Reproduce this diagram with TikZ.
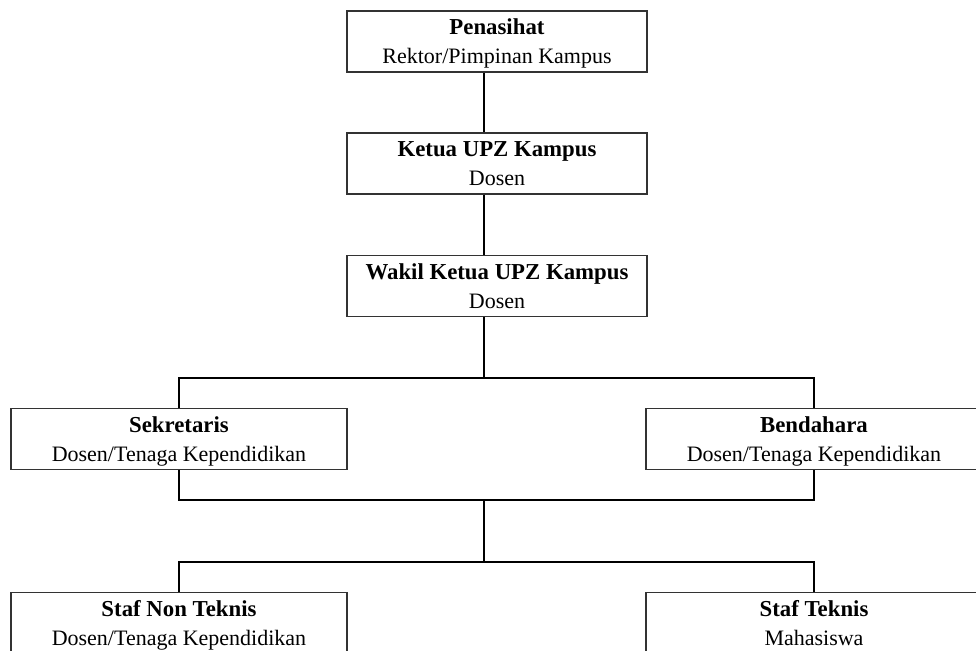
\documentclass[tikz,border=0pt]{standalone}
\usepackage{fontspec}
\setmainfont{Liberation Serif}

\newcommand{\jab}[2]{\rule{0pt}{11pt}{\fontsize{11.4}{14.5}\selectfont\textbf{#1}}\\#2\rule[-3pt]{0pt}{3pt}}

\begin{document}
\begin{tikzpicture}[x=0.5pt,y=-0.5pt,
    jabatan/.style={draw=black!80,line width=0.7pt,fill=white,inner sep=0pt,
      minimum width=150pt,minimum height=30.5pt,align=center,
      font=\fontsize{11}{14.5}\selectfont},
    lebar/.style={jabatan,minimum width=168pt},
    garis/.style={line width=0.7pt}]
  \useasboundingbox (0,0) rectangle (976,651);
  \node[jabatan] (pen) at (497,41.5) {\jab{Penasihat}{Rektor/Pimpinan Kampus}};
  \node[jabatan] (ketua) at (497,163.5) {\jab{Ketua UPZ Kampus}{Dosen}};
  \node[jabatan] (wakil) at (497,286) {\jab{Wakil Ketua UPZ Kampus}{Dosen}};
  \node[lebar] (sek) at (179,439) {\jab{Sekretaris}{Dosen/Tenaga Kependidikan}};
  \node[lebar] (ben) at (814,439) {\jab{Bendahara}{Dosen/Tenaga Kependidikan}};
  \node[lebar] (snt) at (179,623) {\jab{Staf Non Teknis}{Dosen/Tenaga Kependidikan}};
  \node[lebar] (st) at (814,623) {\jab{Staf Teknis}{Mahasiswa}};
  \coordinate (atas) at (484,378);
  \coordinate (tengah) at (484,500);
  \coordinate (bawah) at (484,562);
  \draw[garis] (pen.south -| atas) -- (ketua.north -| atas);
  \draw[garis] (ketua.south -| atas) -- (wakil.north -| atas);
  \draw[garis] (wakil.south -| atas) -- (atas);
  \draw[garis] (sek.north) |- (atas) -| (ben.north);
  \draw[garis] (sek.south) |- (tengah) -| (ben.south);
  \draw[garis] (tengah) -- (bawah);
  \draw[garis] (snt.north) |- (bawah) -| (st.north);
\end{tikzpicture}
\end{document}
